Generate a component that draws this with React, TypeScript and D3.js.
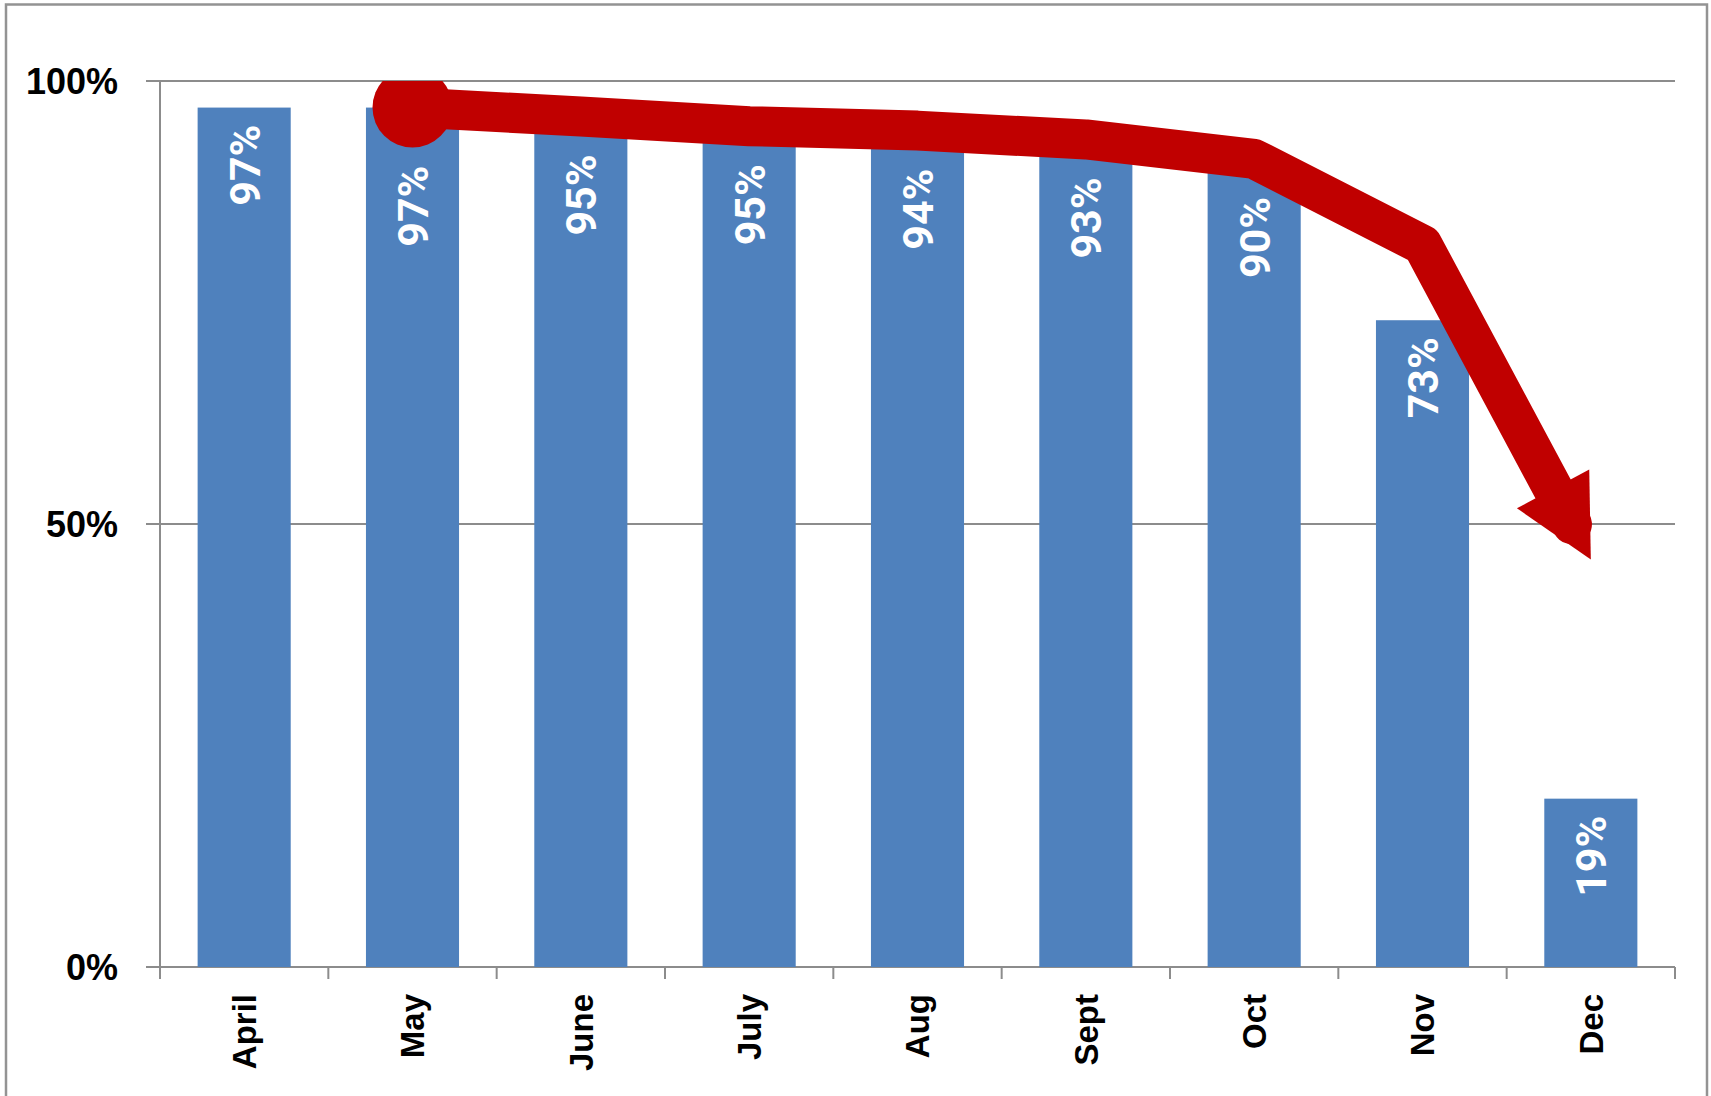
import * as d3 from 'd3';

const categories = ['April', 'May', 'June', 'July', 'Aug', 'Sept', 'Oct', 'Nov', 'Dec'];
const rates = [0.97, 0.97, 0.95, 0.95, 0.94, 0.93, 0.9, 0.73, 0.19];
// hand drawn trend arrow, starts on May
const trend: (number | null)[] = [null, 0.97, 0.96, 0.949, 0.944, 0.934, 0.912, 0.815, 0.46];
const yTicks = [0, 0.5, 1];

const W = 1711;
const H = 1096;
const left = 160, right = 1675, top = 81, bottom = 967;

const App = () => {
  const x = d3.scaleBand<string>().domain(categories).range([left, right])
    .paddingInner(0.447).paddingOuter(0.2235);
  const y = d3.scaleLinear().domain([0, 1]).range([bottom, top]);
  const step = x.step();
  const bw = x.bandwidth();
  const cx = (c: string) => (x(c) as number) + bw / 2;

  const lw = 40;       // arrow thickness
  const r = 40;        // start dot radius
  const headLen = 80, headHalf = 41;

  const pts = categories
    .map((c, i) => ({ c, i, v: trend[i] }))
    .filter(d => d.v != null)
    .map(d => ({ i: d.i, px: cx(d.c), py: y(d.v as number) }));
  const first = pts[0];
  const last = pts[pts.length - 1];
  const prev = pts[pts.length - 2];
  const dx = last.px - prev.px, dy = last.py - prev.py;
  const len = Math.hypot(dx, dy);
  const ux = dx / len, uy = dy / len;
  const bx = last.px - ux * headLen, by = last.py - uy * headLen;
  const head = [
    [last.px, last.py],
    [bx + uy * headHalf, by - ux * headHalf],
    [bx - uy * headHalf, by + ux * headHalf],
  ];
  const linePts = pts.slice(0, -1).map(p => [p.px, p.py] as [number, number]);
  linePts.push([last.px - ux * headLen * 0.5, last.py - uy * headLen * 0.5]);
  const linePath = d3.line()(linePts) as string;

  const labelTop = (i: number) => {
    const barTop = y(rates[i]) + 17;
    const p = pts.find(d => d.i === i);
    if (!p) return barTop;
    const under = p.py + (p.i === first.i ? r : lw / 2) + 18;
    return Math.max(barTop, under);
  };

  const axisFont = '"Liberation Sans", Arial, sans-serif';
  const labelFont = '"Liberation Sans Narrow", Roboto, sans-serif';

  return (
    <svg width={W} height={H} style={{ position: 'absolute', left: 0, top: 0, display: 'block' }}>
      <defs>
        <clipPath id="plot">
          <rect x={left} y={top} width={right - left} height={bottom - top} />
        </clipPath>
      </defs>
      <rect x={0} y={0} width={W} height={H} fill="#fff" />
      <rect x={6} y={4.5} width={1701} height={1120} fill="none" stroke="#939393" strokeWidth={2.5} />

      {yTicks.map(t => (
        <g key={t}>
          <line x1={left - 14} x2={right} y1={y(t)} y2={y(t)} stroke="#8c8c8c" strokeWidth={2} />
          <text x={118} y={y(t)} dy="0.36em" textAnchor="end" fontFamily={axisFont}
            fontWeight="bold" fontSize={36} fill="#000">{Math.round(t * 100)}%</text>
        </g>
      ))}
      <line x1={left} x2={left} y1={top} y2={bottom} stroke="#8c8c8c" strokeWidth={2} />
      {d3.range(categories.length + 1).map(k => (
        <line key={k} x1={left + k * step} x2={left + k * step} y1={bottom} y2={bottom + 12}
          stroke="#8c8c8c" strokeWidth={2} />
      ))}

      {categories.map((c, i) => (
        <rect key={c} x={x(c)} y={y(rates[i])} width={bw} height={bottom - y(rates[i])} fill="#4F81BD" />
      ))}

      {categories.map(c => (
        <text key={c} transform={`translate(${cx(c)},994) rotate(-90)`} dy="0.36em" textAnchor="end"
          fontFamily={axisFont} fontWeight="bold" fontSize={33} fill="#000">{c}</text>
      ))}

      <g clipPath="url(#plot)" fill="#C00000">
        <path d={linePath} fill="none" stroke="#C00000" strokeWidth={lw}
          strokeLinejoin="round" strokeLinecap="round" />
        <circle cx={first.px} cy={first.py} r={r} />
        <polygon points={head.map(p => p.join(',')).join(' ')} />
      </g>

      {categories.map((c, i) => (
        <text key={c} transform={`translate(${cx(c)},${labelTop(i)}) rotate(-90)`} dy="0.36em"
          textAnchor="end" fontFamily={labelFont} fontWeight="bold" fontSize={43} fill="#fff">
          {Math.round(rates[i] * 100)}%
        </text>
      ))}
    </svg>
  );
};

export default App;
